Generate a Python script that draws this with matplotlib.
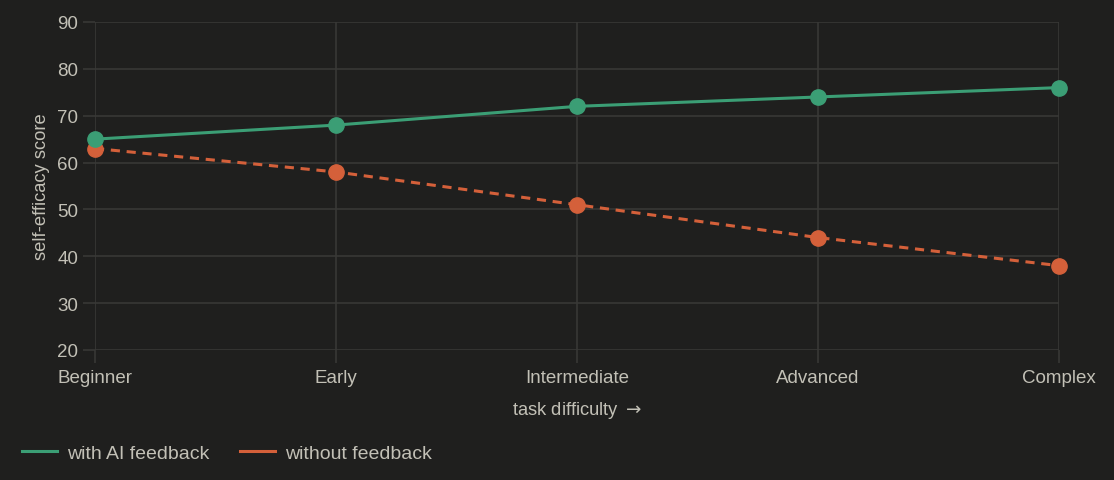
import matplotlib.pyplot as plt
from matplotlib.lines import Line2D

stages = ["Beginner", "Early", "Intermediate", "Advanced", "Complex"]
with_ai = [65, 68, 72, 74, 76]
without_fb = [63, 58, 51, 44, 38]

bg = "#1f1f1e"
txt = "#c2c0b6"
grid_c = "#383836"
green = "#3b9e75"
orange = "#d4603a"

plt.rcParams['font.family'] = ['Liberation Sans', 'DejaVu Sans']

fig = plt.figure(figsize=(11.14, 4.81), dpi=100, facecolor=bg)
ax = fig.add_axes([95/1114, 1 - 351/481, (1059 - 95)/1114, (351 - 23)/481])
ax.set_facecolor(bg)

x = list(range(len(stages)))
ax.plot(x, without_fb, color=orange, lw=2.2, marker='o', ms=11, dashes=(3, 2.2),
        zorder=3, clip_on=False)
ax.plot(x, with_ai, color=green, lw=2.2, marker='o', ms=11, zorder=4, clip_on=False)

ax.set_xlim(0, 4)
ax.set_ylim(20, 90)
ax.set_yticks(range(20, 91, 10))
ax.set_xticks(x)
ax.set_xticklabels(stages)
for s in ax.spines.values():
    s.set_visible(False)
ax.grid(True, color=grid_c, lw=1.2)
ax.set_axisbelow(True)
ax.tick_params(axis='both', colors=grid_c, labelcolor=txt, labelsize=13.5, length=9, width=1.2)
ax.tick_params(axis='x', pad=5)
ax.tick_params(axis='y', pad=3)
ax.set_xlabel("task difficulty $\\rightarrow$", color=txt, fontsize=13.2, labelpad=9)
ax.set_ylabel("self-efficacy score", color=txt, fontsize=13.2, labelpad=5)

handles = [Line2D([0], [0], color=green, lw=2.2), Line2D([0], [0], color=orange, lw=2.2)]
fig.legend(handles, ["with AI feedback", "without feedback"], loc='center left',
           bbox_to_anchor=(0.004, 1 - 454/481), ncol=2, frameon=False,
           fontsize=14, labelcolor=txt, handlelength=1.8, handletextpad=0.5,
           columnspacing=1.6)

fig.savefig("out.png", dpi=100, facecolor=bg)
